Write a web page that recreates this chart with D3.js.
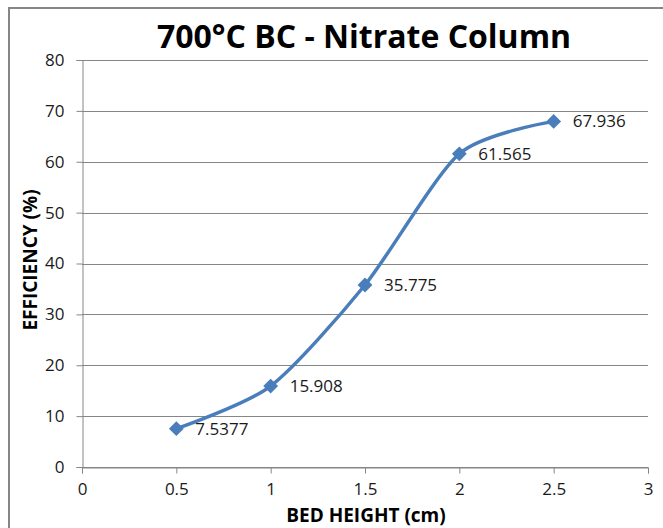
<!DOCTYPE html>
<html>
<head>
<meta charset="utf-8">
<script src="https://cdn.jsdelivr.net/npm/d3@7"></script>
<style>
  body { margin: 0; background: #fff; }
  text { font-family: "Open Sans", "Liberation Sans", sans-serif; }
</style>
</head>
<body>
<script>
// chart values
var bed_height = [0.5, 1, 1.5, 2, 2.5];
var efficiency = [7.5377, 15.908, 35.775, 61.565, 67.936];
var point_labels = ["7.5377", "15.908", "35.775", "61.565", "67.936"];
var x_ticks = [0, 0.5, 1, 1.5, 2, 2.5, 3];
var y_ticks = [0, 10, 20, 30, 40, 50, 60, 70, 80];

var title_text = "700°C BC - Nitrate Column";
var x_title = "BED HEIGHT (cm)";
var y_title = "EFFICIENCY (%)";

var svg_width = 663;
var svg_height = 528;
var line_color = "#4a7ebb";
var grid_color = "#868686";

var svg = d3.select("body")
    .append("svg")
    .attr("width", svg_width)
    .attr("height", svg_height);

// chart border (only top and left visible in the picture)
svg.append("rect")
    .attr("x", 9)
    .attr("y", 8)
    .attr("width", 700)
    .attr("height", 600)
    .attr("fill", "none")
    .attr("stroke", grid_color)
    .attr("stroke-width", 2);

// scales
var x_scale = d3.scaleLinear()
    .domain([0, 3])
    .range([82, 648]);

var y_scale = d3.scaleLinear()
    .domain([0, 80])
    .range([467, 60]);

// horizontal gridlines
svg.append("g")
    .selectAll("line")
    .data(y_ticks)
    .enter()
    .append("line")
    .attr("x1", x_scale(0))
    .attr("x2", x_scale(3))
    .attr("y1", function(d) { return Math.round(y_scale(d)) + 0.5; })
    .attr("y2", function(d) { return Math.round(y_scale(d)) + 0.5; })
    .attr("stroke", grid_color)
    .attr("stroke-width", 1);

// x axis
var x_axis = d3.axisBottom(x_scale)
    .tickValues(x_ticks)
    .tickFormat(function(d) { return d; })
    .tickSize(6)
    .tickPadding(9);

var gx = svg.append("g")
    .attr("transform", "translate(0," + (Math.round(y_scale(0)) + 0.5) + ")")
    .call(x_axis);

// y axis
var y_axis = d3.axisLeft(y_scale)
    .tickValues(y_ticks)
    .tickSize(6)
    .tickPadding(12);

var gy = svg.append("g")
    .attr("transform", "translate(" + (x_scale(0) + 0.5) + ",0)")
    .call(y_axis);

// style both axes like the picture
[gx, gy].forEach(function(g) {
  g.select(".domain").attr("stroke", grid_color);
  g.selectAll(".tick line").attr("stroke", grid_color);
  g.selectAll(".tick text")
      .attr("fill", "#1a1a1a")
      .style("font-size", "17px")
      .style("font-family", "'Open Sans', sans-serif");
});

// smoothed line through the points
var line = d3.line()
    .x(function(d, i) { return x_scale(bed_height[i]); })
    .y(function(d) { return y_scale(d); })
    .curve(d3.curveCardinal.tension(0.25));

svg.append("path")
    .datum(efficiency)
    .attr("d", line)
    .attr("fill", "none")
    .attr("stroke", line_color)
    .attr("stroke-width", 3.5);

// diamond markers
svg.selectAll(".marker")
    .data(efficiency)
    .enter()
    .append("path")
    .attr("class", "marker")
    .attr("d", d3.symbol().type(d3.symbolDiamond2).size(140))
    .attr("transform", function(d, i) {
      return "translate(" + x_scale(bed_height[i]) + "," + y_scale(d) + ")";
    })
    .attr("fill", line_color);

// data labels
svg.selectAll(".point_label")
    .data(efficiency)
    .enter()
    .append("text")
    .attr("class", "point_label")
    .attr("x", function(d, i) { return x_scale(bed_height[i]) + 19; })
    .attr("y", function(d) { return y_scale(d); })
    .attr("dy", "0.35em")
    .attr("fill", "#1a1a1a")
    .style("font-size", "17px")
    .text(function(d, i) { return point_labels[i]; });

// title
svg.append("text")
    .attr("x", 364)
    .attr("y", 48)
    .attr("text-anchor", "middle")
    .style("font-size", "32px")
    .style("font-weight", "bold")
    .text(title_text);

// axis titles
svg.append("text")
    .attr("x", 366)
    .attr("y", 522)
    .attr("text-anchor", "middle")
    .style("font-size", "19px")
    .style("font-weight", "bold")
    .text(x_title);

svg.append("text")
    .attr("transform", "translate(37,260) rotate(-90)")
    .attr("text-anchor", "middle")
    .style("font-size", "19px")
    .style("font-weight", "bold")
    .text(y_title);
</script>
</body>
</html>
